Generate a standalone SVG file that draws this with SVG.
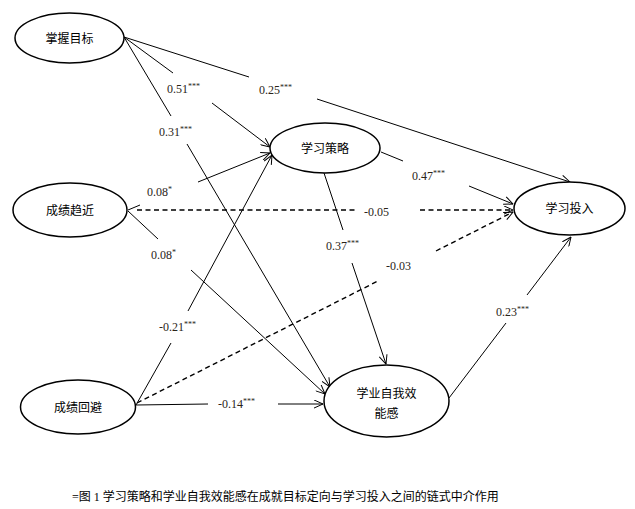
<svg xmlns="http://www.w3.org/2000/svg" width="635" height="509" viewBox="0 0 635 509">
<style>
.node ellipse{fill:#fff;stroke:#000;stroke-width:1.5}
.nt{font-family:"Noto Sans CJK SC",sans-serif;font-size:12px;fill:#000;text-anchor:middle}
.c line{stroke:#000;stroke-width:1;fill:none}
.c line.d{stroke-width:1.4;stroke-dasharray:5,3.5}
.lb{font-family:"Liberation Serif","Times New Roman",serif;font-size:12px;fill:#2a2418}
.sup{font-size:8px}
.cap{font-family:"Liberation Serif","Noto Sans CJK SC",serif;font-size:12px;fill:#000}
</style>
<defs>
<marker id="ah" viewBox="0 0 10 10" refX="10" refY="5" markerWidth="10" markerHeight="9" markerUnits="userSpaceOnUse" orient="auto">
<path d="M0,0.5 L10,5 L0,9.5" fill="none" stroke="#000" stroke-width="1.1"/>
</marker>
</defs>
<rect width="635" height="509" fill="#fff"/>

<g class="c" id="connectors">
<!-- 掌握目标 -> 学习策略 -->
<line x1="124" y1="37" x2="173" y2="73"/>
<line x1="212" y1="103" x2="270" y2="147" marker-end="url(#ah)"/>
<!-- 掌握目标 -> 学习投入 -->
<line x1="124" y1="37" x2="249" y2="77"/>
<line x1="317" y1="99" x2="570" y2="182" marker-end="url(#ah)"/>
<!-- 掌握目标 -> 学业自我效能感 -->
<line x1="124" y1="37" x2="171" y2="116"/>
<line x1="187" y1="144" x2="330" y2="387" marker-end="url(#ah)"/>
<!-- 成绩趋近 -> 学习策略 -->
<line x1="128" y1="210" x2="140" y2="205"/>
<line x1="198" y1="182" x2="270" y2="153" marker-end="url(#ah)"/>
<!-- 成绩趋近 -> 学业自我效能感 -->
<line x1="128" y1="211" x2="158" y2="239"/>
<line x1="191" y1="270" x2="325" y2="394" marker-end="url(#ah)"/>
<!-- 成绩回避 -> 学习策略 -->
<line x1="136" y1="405" x2="171" y2="343"/>
<line x1="188" y1="311" x2="272" y2="155" marker-end="url(#ah)"/>
<!-- 成绩回避 -> 学习投入 (dashed) -->
<line class="d" x1="137" y1="403" x2="378" y2="281"/>
<line class="d" x1="436" y1="251" x2="513" y2="212" marker-end="url(#ah)"/>
<!-- 成绩趋近 -> 学习投入 (dashed) -->
<line class="d" x1="137" y1="210" x2="355" y2="210"/>
<line class="d" x1="420" y1="210" x2="513" y2="210" marker-end="url(#ah)"/>
<!-- 学习策略 -> 学习投入 -->
<line x1="381" y1="152" x2="403" y2="161"/>
<line x1="469" y1="186" x2="513" y2="204" marker-end="url(#ah)"/>
<!-- 学习策略 -> 学业自我效能感 -->
<line x1="324" y1="173" x2="343" y2="230"/>
<line x1="352" y1="263" x2="386" y2="364" marker-end="url(#ah)"/>
<!-- 成绩回避 -> 学业自我效能感 -->
<line x1="136" y1="405" x2="208" y2="404"/>
<line x1="278" y1="404" x2="323" y2="404" marker-end="url(#ah)"/>
<!-- 学业自我效能感 -> 学习投入 -->
<line x1="449" y1="398" x2="506" y2="323"/>
<line x1="527" y1="295" x2="571" y2="237" marker-end="url(#ah)"/>
</g>

<g id="labels">
<text class="lb" x="167" y="93">0.51<tspan class="sup" dy="-4.5">***</tspan></text>
<text class="lb" x="259" y="94">0.25<tspan class="sup" dy="-4.5">***</tspan></text>
<text class="lb" x="159" y="136">0.31<tspan class="sup" dy="-4.5">***</tspan></text>
<text class="lb" x="147" y="196">0.08<tspan class="sup" dy="-4.5">*</tspan></text>
<text class="lb" x="151" y="259">0.08<tspan class="sup" dy="-4.5">*</tspan></text>
<text class="lb" x="159" y="331">-0.21<tspan class="sup" dy="-4.5">***</tspan></text>
<text class="lb" x="218" y="408">-0.14<tspan class="sup" dy="-4.5">***</tspan></text>
<text class="lb" x="364" y="216">-0.05</text>
<text class="lb" x="412" y="180">0.47<tspan class="sup" dy="-4.5">***</tspan></text>
<text class="lb" x="326" y="250">0.37<tspan class="sup" dy="-4.5">***</tspan></text>
<text class="lb" x="386" y="270">-0.03</text>
<text class="lb" x="496" y="316">0.23<tspan class="sup" dy="-4.5">***</tspan></text>
</g>

<g class="node" id="n-mastery">
<ellipse cx="69.5" cy="38" rx="54.5" ry="25"/>
<text class="nt" x="69.5" y="42.5">掌握目标</text>
</g>
<g class="node" id="n-approach">
<ellipse cx="70" cy="210" rx="57" ry="27"/>
<text class="nt" x="70" y="214.5">成绩趋近</text>
</g>
<g class="node" id="n-avoid">
<ellipse cx="78" cy="407" rx="57.5" ry="27"/>
<text class="nt" x="78" y="411.5">成绩回避</text>
</g>
<g class="node" id="n-strategy">
<ellipse cx="325" cy="148" rx="55" ry="25"/>
<text class="nt" x="325" y="152.5">学习策略</text>
</g>
<g class="node" id="n-engage">
<ellipse cx="569.5" cy="208.5" rx="55.5" ry="26.5"/>
<text class="nt" x="569.5" y="213">学习投入</text>
</g>
<g class="node" id="n-efficacy">
<ellipse cx="386.5" cy="401" rx="62.5" ry="36"/>
<text class="nt" x="386.5" y="397.5">学业自我效</text>
<text class="nt" x="386.5" y="417.5">能感</text>
</g>

<text class="cap" x="72" y="501">=图 1 学习策略和学业自我效能感在成就目标定向与学习投入之间的链式中介作用</text>
</svg>
